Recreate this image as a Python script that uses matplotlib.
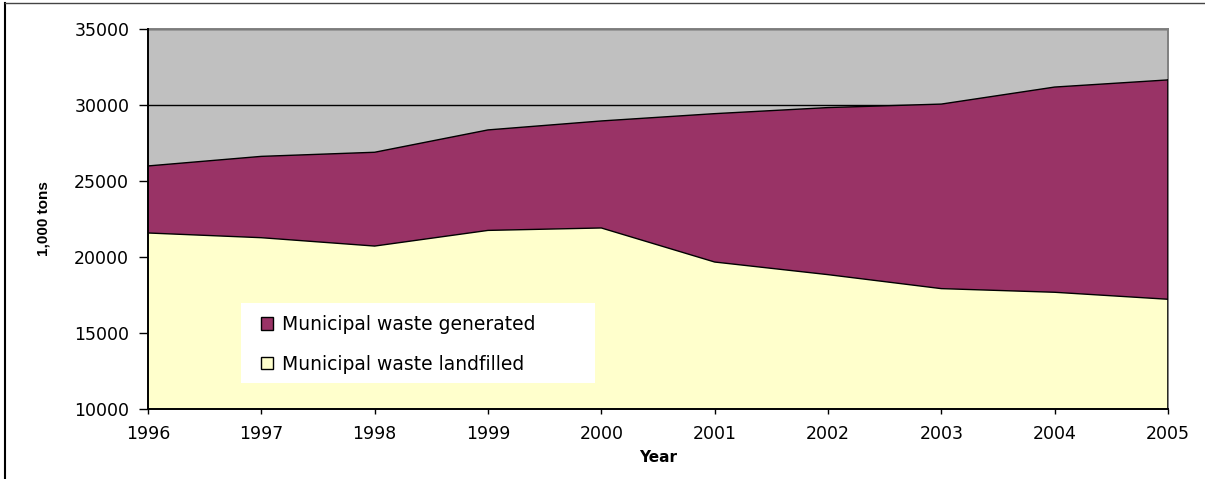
import matplotlib
matplotlib.use("Agg")
import matplotlib.pyplot as plt
from matplotlib.patches import Rectangle, Patch
from matplotlib.lines import Line2D

# Municipal waste, 1,000 tons
years = [1996, 1997, 1998, 1999, 2000, 2001, 2002, 2003, 2004, 2005]
waste_generated = [25990, 26620, 26890, 28360, 28950, 29430, 29830, 30060, 31180, 31650]
waste_landfilled = [21580, 21270, 20720, 21750, 21910, 19670, 18840, 17920, 17680, 17220]
y_ticks = [10000, 15000, 20000, 25000, 30000, 35000]

GRAY = "#C0C0C0"
PURPLE = "#993366"
CREAM = "#FFFFCC"

plt.rcParams["font.family"] = ["DejaVu Sans"]

fig = plt.figure(figsize=(12.05, 4.79), dpi=100)
ax = fig.add_axes([0.1228, 0.1461, 0.9693 - 0.1228, 0.9395 - 0.1461])
ax.set_facecolor(GRAY)

base = y_ticks[0]
ax.fill_between(years, base, waste_generated, facecolor=PURPLE, edgecolor="none", zorder=2)
ax.fill_between(years, base, waste_landfilled, facecolor=CREAM, edgecolor="none", zorder=3)
ax.plot(years, waste_generated, color="black", lw=1.0, zorder=4)
ax.plot(years, waste_landfilled, color="black", lw=1.0, zorder=4)
ax.plot([years[-1], years[-1]], [base, waste_generated[-1]], color="black", lw=1.2, zorder=4)

ax.set_xlim(years[0], years[-1])
ax.set_ylim(y_ticks[0], y_ticks[-1])
ax.set_xticks(years)
ax.set_yticks(y_ticks)

ax.set_axisbelow(True)
ax.yaxis.grid(True, color="black", lw=1.0)

for side in ("left", "bottom"):
    ax.spines[side].set_color("black")
    ax.spines[side].set_linewidth(1.4)
    ax.spines[side].set_zorder(6)
for side in ("top", "right"):
    ax.spines[side].set_color("#808080")
    ax.spines[side].set_linewidth(1.4)
    ax.spines[side].set_zorder(1)

ax.tick_params(axis="y", direction="out", length=6.5, width=1.0, pad=7, labelsize=12.5, colors="black")
ax.tick_params(axis="x", direction="out", length=3.5, width=1.0, pad=8, labelsize=12.5, colors="black")

ax.set_xlabel("Year", fontsize=11, fontweight="bold", labelpad=5)
ax.set_ylabel("1,000 tons", fontsize=11, fontweight="bold",
              family=["Liberation Sans Narrow", "Liberation Sans", "DejaVu Sans"], labelpad=17)

# Legend panel
ax.add_patch(Rectangle((0.0912, 0.0684), 0.438 - 0.0912, 0.279 - 0.0684,
                       transform=ax.transAxes, facecolor="white", edgecolor="none", zorder=7))
handles = [Patch(facecolor=PURPLE, edgecolor="black", lw=1.0),
           Patch(facecolor=CREAM, edgecolor="black", lw=1.0)]
leg = ax.legend(handles, ["Municipal waste generated", "Municipal waste landfilled"],
                loc="upper left", bbox_to_anchor=(0.111, 0.247), frameon=False,
                fontsize=13.5, handlelength=0.65, handleheight=0.65, handletextpad=0.45,
                labelspacing=1.1, borderpad=0, borderaxespad=0)
leg.set_zorder(8)

# Outer frame
fig.add_artist(Line2D([4.5 / 1205, 4.5 / 1205], [0, 1 - 3 / 479], transform=fig.transFigure,
                      color="black", lw=1.5))
fig.add_artist(Line2D([4.5 / 1205, 1], [1 - 3 / 479, 1 - 3 / 479], transform=fig.transFigure,
                      color="#444444", lw=1.0))

fig.savefig("out.png", dpi=100)
